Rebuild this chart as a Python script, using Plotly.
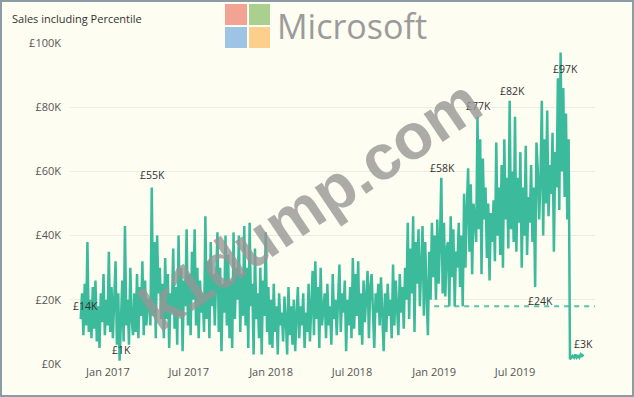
import pandas as pd
import plotly.graph_objects as go

# ---------------- data (values in £K, one value every 3 days from 1 Nov 2016) -------------
nov16 = [14, 22, 9, 25, 12, 38, 10, 20, 8, 24]
dec16 = [11, 26, 7, 18, 5, 22, 13, 28, 9, 20, 12]
jan17 = [35, 10, 24, 8, 19, 32, 6, 22, 1, 15]
feb17 = [26, 7, 43, 12, 20, 6, 30, 14, 9]
mar17 = [22, 10, 28, 8, 24, 15, 32, 9, 26, 12, 20]
apr17 = [20, 12, 55, 15, 38, 8, 40, 22, 30, 14]
may17 = [25, 8, 33, 14, 28, 5, 22, 16, 36, 11]
jun17 = [24, 6, 40, 15, 30, 4, 26, 18, 42, 12]
jul17 = [28, 9, 35, 20, 42, 12, 30, 8, 26, 16]
aug17 = [22, 10, 46, 14, 32, 8, 38, 18, 28, 12, 24]
sep17 = [41, 10, 30, 4, 25, 16, 40, 12, 34, 8]
oct17 = [26, 5, 41, 14, 30, 20, 40, 10, 28, 15]
nov17 = [43, 12, 30, 5, 44, 18, 25, 3, 36, 14]
dec17 = [22, 8, 30, 3, 26, 15, 41, 10, 24, 6]
jan18 = [20, 5, 25, 10, 18, 3, 22, 12, 16, 7, 21]
feb18 = [14, 3, 24, 9, 18, 6, 20, 4, 15]
mar18 = [24, 8, 18, 12, 22, 5, 16, 10, 25, 7]
apr18 = [20, 29, 9, 32, 14, 24, 5, 30, 12, 18]
may18 = [22, 8, 25, 12, 18, 6, 28, 14, 20, 9, 24]
jun18 = [31, 10, 22, 16, 26, 4, 20, 12, 24, 8]
jul18 = [33, 11, 28, 15, 32, 9, 22, 6, 26, 13]
aug18 = [20, 29, 8, 24, 28, 14, 5, 22, 16, 25]
sep18 = [12, 27, 18, 4, 22, 10, 25, 15, 20, 8]
oct18 = [31, 12, 26, 18, 9, 28, 16, 24, 11, 30, 20]
nov18 = [44, 14, 36, 22, 46, 10, 38, 25, 42, 18]
dec18 = [30, 43, 15, 38, 22, 9, 35, 20, 44, 27]
jan19 = [40, 20, 45, 25, 38, 58, 22, 44, 21, 36]
feb19 = [38, 18, 46, 27, 42, 18, 35, 30, 44, 24]
mar19 = [40, 18, 53, 30, 48, 61, 35, 56, 28, 50]
apr19 = [45, 38, 77, 42, 70, 28, 64, 45, 55, 33]
may19 = [50, 26, 47, 38, 51, 32, 69, 40, 55, 34]
jun19 = [62, 30, 70, 45, 58, 36, 82, 42, 60, 38]
jul19 = [77, 35, 58, 44, 66, 30, 55, 40, 68, 34, 52]
aug19 = [44, 62, 38, 55, 24, 69, 60, 45, 58, 82]
sep19 = [40, 70, 50, 79, 46, 62, 53, 72, 35, 66]
oct19 = [55, 89, 48, 97, 60, 86, 52, 78, 45, 70]
nov19 = [1.5, 2, 2.5, 2, 3, 2, 2.5, 2, 3, 2.5, 3]

months = [nov16, dec16, jan17, feb17, mar17, apr17, may17, jun17, jul17, aug17, sep17, oct17,
          nov17, dec17, jan18, feb18, mar18, apr18, may18, jun18, jul18, aug18, sep18, oct18,
          nov18, dec18, jan19, feb19, mar19, apr19, may19, jun19, jul19, aug19, sep19, oct19, nov19]
sales_k = [v for m in months for v in m]
dates = pd.date_range("2016-11-01", periods=len(sales_k), freq="3D")

percentile_k = 18
percentile_dates = ["2019-01-01", "2019-12-27"]


def idx_of(month_list, pos):
    off = 0
    for m in months:
        if m is month_list:
            return off + pos
        off += len(m)


# which points carry a data label: (index into series, xshift, yshift)
label_points = [
    (0, 5, 13),
    (idx_of(jan17, 8), 2, 11),
    (idx_of(apr17, 2), 1, 12),
    (idx_of(jan19, 5), 1, 10),
    (idx_of(apr19, 2), 1, 11),
    (idx_of(jun19, 6), 3, 10),
    (idx_of(oct19, 3), 5, -16),
    (idx_of(aug19, 4), 5, -14),
    (len(sales_k) - 1, 0, 10),
]

line_color = "#3BBA9C"
bg = "#FDFDF1"
W, H = 634, 397
ML, MR, MT, MB = 70, 39, 43, 33
PW, PH = W - ML - MR, H - MT - MB


def px(x):
    return (x - ML) / PW


def py(y):
    return 1 - (y - MT) / PH


fig = go.Figure()
fig.add_trace(go.Scatter(x=dates, y=sales_k, mode="lines",
                         line=dict(color=line_color, width=2.5), hoverinfo="skip"))
fig.add_trace(go.Scatter(x=percentile_dates, y=[percentile_k] * len(percentile_dates), mode="lines",
                         line=dict(color=line_color, width=2, dash="5px,5px"), opacity=0.85,
                         hoverinfo="skip"))

annotations = []
for i, xs, ys in label_points:
    annotations.append(dict(x=dates[i], y=sales_k[i], text=f"£{sales_k[i]:.0f}K", showarrow=False,
                            xshift=xs, yshift=ys, font=dict(family="Open Sans", size=10.5, color="#333333")))

# watermark / logo
annotations.append(dict(x=px(275), y=py(26), xref="paper", yref="paper", text="Microsoft",
                        showarrow=False, xanchor="left", yanchor="middle",
                        font=dict(family="Open Sans", size=34, color="#9B9B9B")))
annotations.append(dict(x=px(310), y=py(205), xref="paper", yref="paper", text="<b>k1dump.com</b>",
                        showarrow=False, textangle=-34, xanchor="center", yanchor="middle",
                        font=dict(family="Liberation Sans", size=64, color="rgba(150,150,150,0.8)")))

shapes = [
    dict(type="rect", xref="paper", yref="paper", x0=px(1), x1=px(W - 1), y0=py(H - 1), y1=py(1),
         line=dict(color="#8C9BA6", width=2), layer="below"),
]
logo = [((225, 4, 247, 25), "#F2A394"), ((249, 4, 270, 25), "#A9D08E"),
        ((225, 27, 247, 48), "#9DC4E5"), ((249, 27, 270, 48), "#FDCF8C")]
for (x0, y0, x1, y1), c in logo:
    shapes.append(dict(type="rect", xref="paper", yref="paper", x0=px(x0), x1=px(x1),
                       y0=py(y1), y1=py(y0), fillcolor=c, line=dict(width=0), layer="above"))

fig.update_layout(
    width=W, height=H,
    margin=dict(l=ML, r=MR, t=MT, b=MB),
    paper_bgcolor=bg, plot_bgcolor=bg,
    showlegend=False,
    title=dict(text="Sales including Percentile", x=12 / W, xanchor="left", y=1 - 19 / H,
               yanchor="middle", font=dict(family="Open Sans", size=11, color="#333333")),
    xaxis=dict(range=["2016-10-08", "2019-12-27"], tickformat="%b %Y", dtick="M6",
               tick0="2017-01-01", showgrid=False, zeroline=False, showline=False,
               tickfont=dict(family="Open Sans", size=11, color="#555555"), ticks=""),
    yaxis=dict(range=[0, 100], dtick=20, tickprefix="£", ticksuffix="K",
               gridcolor="#ECECDF", gridwidth=1, zeroline=False, showline=False,
               tickfont=dict(family="Open Sans", size=11, color="#555555"), ticklabelstandoff=8),
    annotations=annotations,
    shapes=shapes,
)

fig.write_html("out.html", config={"displayModeBar": False},
               post_script="document.body.style.margin='0px';")
